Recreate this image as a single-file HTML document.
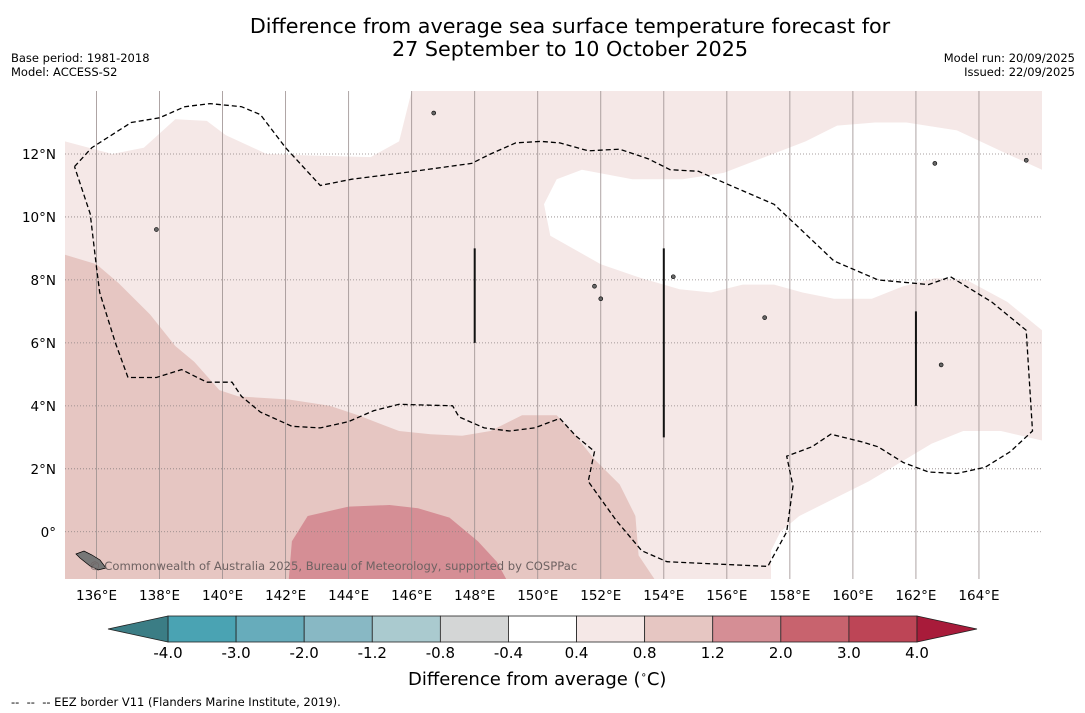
<!DOCTYPE html>
<html><head><meta charset="utf-8"><style>
body{margin:0;background:#fff;font-family:"DejaVu Sans","Liberation Sans",sans-serif;}
#wrap{position:relative;width:1085px;height:713px;overflow:hidden;background:#fff;}
.t{position:absolute;white-space:nowrap;color:#000;}
</style></head><body>
<div id="wrap">
<div class="t" style="left:0;width:1140px;text-align:center;top:15px;font-size:20.7px;line-height:23px;">Difference from average sea surface temperature forecast for<br>27 September to 10 October 2025</div>
<div class="t" style="left:11px;top:51px;font-size:11.5px;line-height:14px;">Base period: 1981-2018<br>Model: ACCESS-S2</div>
<div class="t" style="right:10px;top:51px;font-size:11.5px;line-height:14px;text-align:right;">Model run: 20/09/2025<br>Issued: 22/09/2025</div>
<svg id="svg" width="1085" height="713" style="position:absolute;left:0;top:0"></svg>
<div class="t" style="left:408px;top:669px;font-size:18px;">Difference from average (<sup style="font-size:10px">∘</sup>C)</div>
<div class="t" style="left:11px;top:695px;font-size:11.5px;">-- &nbsp;-- &nbsp;-- EEZ border V11 (Flanders Marine Institute, 2019).</div>
</div>
<script>
const lonTicks=[136,138,140,142,144,146,148,150,152,154,156,158,160,162,164];
const latTicks=[0,2,4,6,8,10,12];
const cbLevels=[-4.0,-3.0,-2.0,-1.2,-0.8,-0.4,0.4,0.8,1.2,2.0,3.0,4.0];
const cbColors=["#4aa3b3","#67acbb","#88b8c4","#aacacf","#d4d6d6","#ffffff","#f5e8e7","#e6c6c2","#d58e95","#c8636e","#bd4556"];
const cbExtLow="#3b7d85", cbExtHigh="#a81b3a";
const whiteTopLeft=[[135,14],[146,14],[145.6,12.4],[144.7,11.9],[142.8,11.95],[141.4,12],[140.1,12.6],[139.5,13.05],[138.5,13.1],[137.5,12.2],[136.5,12],[135,12.4]];
const whiteMid=[[150.2,10.4],[150.4,9.4],[152,8.5],[153.3,8.05],[154.5,7.7],[155.5,7.6],[156.5,7.85],[157.5,7.85],[158.4,7.6],[159.4,7.4],[160.6,7.4],[161.6,7.8],[162.6,8.05],[163.6,8.0],[164.9,7.3],[166,6.4],[166,11.5],[164.9,12.0],[163.3,12.75],[161.7,13.0],[160.7,13.0],[159.5,12.9],[158.5,12.4],[157.2,11.9],[155.9,11.4],[154.6,11.2],[153,11.2],[151.4,11.5],[150.6,11.2]];
const whiteBottomRight=[[166,2.9],[164.7,3.2],[163.5,3.2],[162.5,2.8],[161.5,2.2],[160.5,1.6],[159.3,1.0],[158.3,0.5],[157.7,0.0],[157.4,-0.6],[157.4,-1.5],[166,-1.5]];
const darkRegion=[[135,8.8],[136,8.5],[136.7,7.9],[137.7,6.9],[138.5,5.9],[139.1,5.4],[139.9,4.5],[140.5,4.3],[142.1,4.2],[143.4,4.0],[144.3,3.7],[145.6,3.2],[146.6,3.1],[147.6,3.05],[148.5,3.2],[149.5,3.7],[150.6,3.7],[151.2,3.05],[151.8,2.3],[152.6,1.5],[153.1,0.5],[153.2,-0.75],[153.7,-1.5],[135,-1.5]];
const darkestBlob=[[142.1,-1.5],[142.2,-0.3],[142.7,0.5],[144,0.8],[145.3,0.85],[146.2,0.75],[147.2,0.45],[148.1,-0.3],[148.7,-0.95],[149,-1.5]];
const eezLine=[[135.3,11.6],[135.85,12.2],[137.1,13.0],[138,13.15],[138.8,13.5],[139.6,13.6],[140.6,13.5],[141.2,13.25],[142,12.2],[143.1,11.0],[144.1,11.2],[145.7,11.4],[147.9,11.7],[148.5,12.0],[149.3,12.35],[150.1,12.4],[150.7,12.35],[151.6,12.1],[152.6,12.15],[153.5,11.85],[154.2,11.5],[155.1,11.45],[156,11.05],[157.5,10.4],[158.3,9.65],[159.4,8.6],[160.8,8.0],[162.4,7.85],[163.1,8.1],[164.4,7.3],[165.5,6.4],[165.7,3.2],[165,2.55],[164.2,2.05],[163.3,1.85],[162.4,1.9],[161.6,2.2],[160.8,2.7],[160.3,2.85],[159.3,3.1],[158.7,2.7],[157.9,2.4],[158.1,1.45],[157.9,0.0],[157.3,-1.1],[154.1,-0.95],[153.3,-0.6],[152.5,0.35],[151.6,1.6],[151.8,2.55],[151.2,3.05],[150.7,3.6],[149.9,3.3],[149.1,3.2],[148.3,3.3],[147.5,3.65],[147.3,4.0],[145.6,4.05],[144.8,3.85],[144,3.5],[143.1,3.3],[142.2,3.35],[141.2,3.8],[140.6,4.3],[140.3,4.75],[139.5,4.75],[138.7,5.15],[137.9,4.9],[137,4.9],[136.6,6.0],[136.1,7.6],[136,8.4],[135.8,10.1],[135.3,11.6]];
const vLines=[[148,6,9],[154,3,9],[162,4,7]];
const islands=[[137.9,9.6],[146.7,13.3],[151.8,7.8],[154.3,8.1],[157.2,6.8],[162.8,5.3],[152,7.4],[165.5,11.8],[162.6,11.7]];
const lonMin=135,lonMax=166,latMin=-1.5,latMax=14;
const X0=65,X1=1042,Y0=91,Y1=579;
const sx=l=>X0+(l-lonMin)/(lonMax-lonMin)*(X1-X0);
const sy=l=>Y1-(l-latMin)/(latMax-latMin)*(Y1-Y0);
const NS="http://www.w3.org/2000/svg";
const svg=document.getElementById('svg');
function mk(tag,attrs,parent){const e=document.createElementNS(NS,tag);for(const k in attrs)e.setAttribute(k,attrs[k]);(parent||svg).appendChild(e);return e;}
const pts=a=>a.map(p=>sx(p[0]).toFixed(1)+","+sy(p[1]).toFixed(1)).join(" ");
let e;
e=mk('rect',{x:X0,y:Y0,width:X1-X0,height:Y1-Y0,fill:"#f5e8e7"});


e=mk('polygon',{points:pts(whiteTopLeft),fill:"#fff"});


e=mk('polygon',{points:pts(whiteMid),fill:"#fff"});


e=mk('polygon',{points:pts(whiteBottomRight),fill:"#fff"});


e=mk('polygon',{points:pts(darkRegion),fill:"#e6c6c2"});


e=mk('polygon',{points:pts(darkestBlob),fill:"#d58e95"});


lonTicks.forEach(l=>{
  e=mk('line',{x1:sx(l),x2:sx(l),y1:Y0,y2:Y1,stroke:"#9a8e8e","stroke-width":0.8});
  
  
  e=mk('text',{x:sx(l),y:600,"text-anchor":"middle","font-size":13.5,"font-family":"DejaVu Sans, Liberation Sans, sans-serif"});
  e.textContent=l+"°E";
  
  
});
latTicks.forEach(l=>{
  e=mk('line',{x1:X0,x2:X1,y1:sy(l),y2:sy(l),stroke:"#8a8080","stroke-width":0.8,"stroke-dasharray":"1,2"});
  
  
  e=mk('text',{x:56,y:sy(l)+5,"text-anchor":"end","font-size":13.5,"font-family":"DejaVu Sans, Liberation Sans, sans-serif"});
  e.textContent=l===0?"0°":l+"°N";
  
  
});
e=mk('polyline',{points:pts(eezLine),fill:"none",stroke:"#000","stroke-width":1.3,"stroke-dasharray":"5,3"});


vLines.forEach(v=>{
  e=mk('line',{x1:sx(v[0]),x2:sx(v[0]),y1:sy(v[1]),y2:sy(v[2]),stroke:"#111","stroke-width":2});
  
  
});
islands.forEach(p=>{
  e=mk('circle',{cx:sx(p[0]),cy:sy(p[1]),r:2,fill:"#666",stroke:"#000","stroke-width":0.6});
  
  
});
e=mk('polygon',{points:"76,554 84,551 92,555 100,560 106,568 98,570 90,566 80,558",fill:"#777",stroke:"#000","stroke-width":0.7});


e=mk('text',{x:89,y:570,"font-size":11.6,fill:"#6e6262","font-family":"DejaVu Sans, Liberation Sans, sans-serif"});
e.textContent="© Commonwealth of Australia 2025, Bureau of Meteorology, supported by COSPPac";


const CB0=168,CB1=917,CBy=616,CBh=26;
const segW=(CB1-CB0)/cbColors.length;
cbColors.forEach((c,i)=>{
  e=mk('rect',{x:CB0+i*segW,y:CBy,width:segW,height:CBh,fill:c,stroke:"#222","stroke-width":0.8});
  
  
});
e=mk('polygon',{points:`${CB0},${CBy} 108,${CBy+CBh/2} ${CB0},${CBy+CBh}`,fill:cbExtLow,stroke:"#222","stroke-width":0.8});


e=mk('polygon',{points:`${CB1},${CBy} 977,${CBy+CBh/2} ${CB1},${CBy+CBh}`,fill:cbExtHigh,stroke:"#222","stroke-width":0.8});


cbLevels.forEach((v,i)=>{
  e=mk('text',{x:CB0+i*segW,y:658,"text-anchor":"middle","font-size":15,"font-family":"DejaVu Sans, Liberation Sans, sans-serif"});
  e.textContent=v.toFixed(1);
  
  
});
</script>
</body></html>
